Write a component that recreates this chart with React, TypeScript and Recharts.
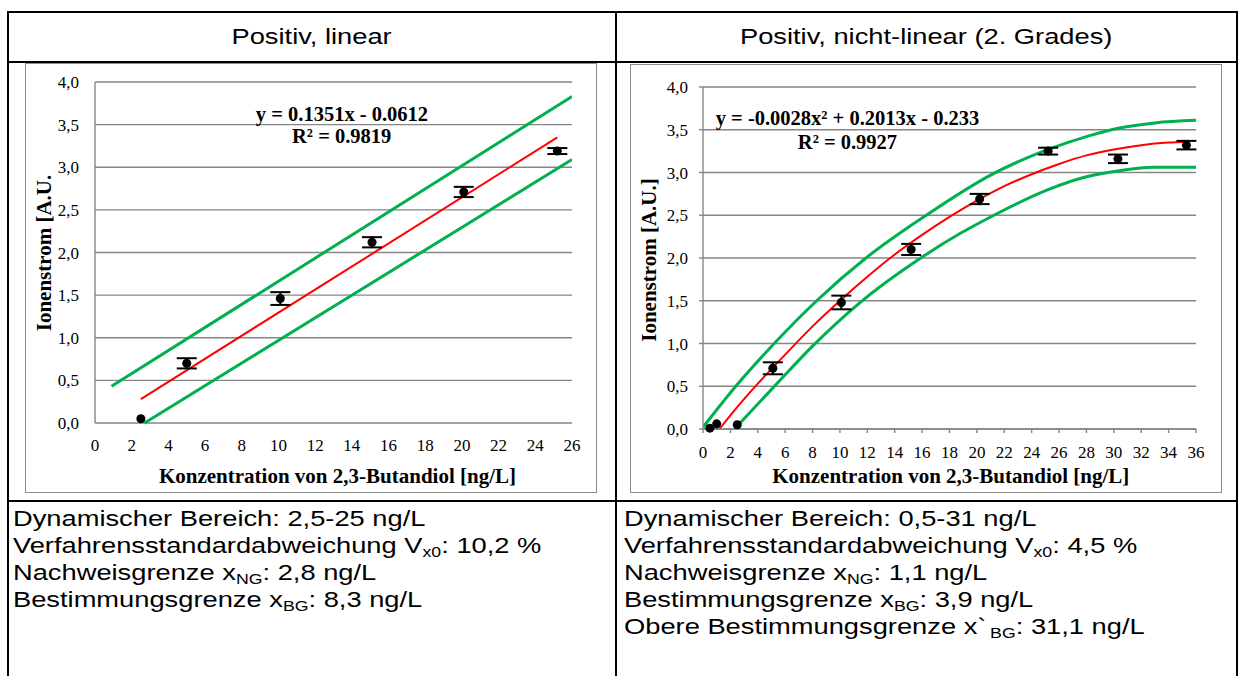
import React from 'react';
import { ComposedChart, Line, Scatter, XAxis, YAxis, CartesianGrid, ErrorBar } from 'recharts';

// ---------- data ----------
const xTicksLinear = [0, 2, 4, 6, 8, 10, 12, 14, 16, 18, 20, 22, 24, 26];
const xTicksQuad = [0, 2, 4, 6, 8, 10, 12, 14, 16, 18, 20, 22, 24, 26, 28, 30, 32, 34, 36];
const yTicks = [0, 0.5, 1, 1.5, 2, 2.5, 3, 3.5, 4];

const linearPoints = [
  { x: 2.5, y: 0.05, err: 0 },
  { x: 5.0, y: 0.7, err: 0.06 },
  { x: 10.1, y: 1.46, err: 0.075 },
  { x: 15.1, y: 2.12, err: 0.06 },
  { x: 20.1, y: 2.71, err: 0.06 },
  { x: 25.2, y: 3.19, err: 0.035 },
];
const linearFit = [
  { x: 2.5, y: 0.28 },
  { x: 25.2, y: 3.35 },
];
const linearUpper = [
  { x: 0.9, y: 0.43 },
  { x: 26, y: 3.83 },
];
const linearLower = [
  { x: 2.7, y: 0.0 },
  { x: 26, y: 3.09 },
];

const quadPoints = [
  { x: 0.5, y: 0.01, err: 0 },
  { x: 1.0, y: 0.06, err: 0 },
  { x: 2.5, y: 0.05, err: 0 },
  { x: 5.1, y: 0.71, err: 0.07 },
  { x: 10.1, y: 1.48, err: 0.08 },
  { x: 15.2, y: 2.1, err: 0.065 },
  { x: 20.2, y: 2.69, err: 0.06 },
  { x: 25.2, y: 3.25, err: 0.04 },
  { x: 30.3, y: 3.16, err: 0.05 },
  { x: 35.3, y: 3.32, err: 0.05 },
];
const quadFit = [
  { x: 1.2, y: 0 }, { x: 2, y: 0.16 }, { x: 4, y: 0.53 }, { x: 6, y: 0.87 },
  { x: 8, y: 1.2 }, { x: 10, y: 1.5 }, { x: 12, y: 1.78 }, { x: 14, y: 2.04 },
  { x: 16, y: 2.27 }, { x: 18, y: 2.48 }, { x: 20, y: 2.67 }, { x: 22, y: 2.84 },
  { x: 24, y: 2.98 }, { x: 26, y: 3.1 }, { x: 28, y: 3.2 }, { x: 30, y: 3.27 },
  { x: 32, y: 3.32 }, { x: 34, y: 3.35 }, { x: 35.3, y: 3.36 },
];
const quadUpper = [
  { x: 0, y: 0.02 }, { x: 2.5, y: 0.52 }, { x: 5.2, y: 1.0 }, { x: 8.3, y: 1.5 },
  { x: 11.9, y: 2.0 }, { x: 16.3, y: 2.5 }, { x: 21, y: 2.97 }, { x: 25.2, y: 3.27 },
  { x: 28, y: 3.42 }, { x: 30.4, y: 3.52 }, { x: 33, y: 3.58 }, { x: 36, y: 3.61 },
];
const quadLower = [
  { x: 2.3, y: 0 }, { x: 5.1, y: 0.48 }, { x: 8, y: 0.97 }, { x: 11.4, y: 1.47 },
  { x: 15.9, y: 2.0 }, { x: 18.7, y: 2.28 }, { x: 21, y: 2.48 }, { x: 25.2, y: 2.8 },
  { x: 28, y: 2.95 }, { x: 30.4, y: 3.02 }, { x: 33, y: 3.06 }, { x: 36, y: 3.06 },
];

const headers = ['Positiv, linear', 'Positiv, nicht-linear (2. Grades)'];
const xTitle = 'Konzentration von 2,3-Butandiol [ng/L]';
const yTitleLinear = 'Ionenstrom [A.U.';
const yTitleQuad = 'Ionenstrom [A.U.]';

// ---------- styles ----------
const SERIF = '"Liberation Serif", "Times New Roman", serif';
const SANS = '"Liberation Sans", Arial, sans-serif';
const GRID = '#868686';
const GREEN = '#00b050';
const RED = '#ff0000';
const fmt = (v: number) => v.toFixed(1).replace('.', ',');
const tickStyle = { fontFamily: SERIF, fontSize: 17, fill: '#000' };

const YTitle = ({ x, y, text }: { x: number; y: number; text: string }) => (
  <text
    x={x}
    y={y}
    transform={`rotate(-90 ${x} ${y})`}
    textAnchor="middle"
    dominantBaseline="central"
    fontFamily={SERIF}
    fontWeight="bold"
    fontSize={21}
    fill="#000"
  >
    {text}
  </text>
);
const XTitle = ({ x, y, text }: { x: number; y: number; text: string }) => (
  <text x={x} y={y} textAnchor="middle" fontFamily={SERIF} fontWeight="bold" fontSize={21} fill="#000">
    {text}
  </text>
);

const line = (l: number, t: number, w: number, h: number): React.CSSProperties => ({
  position: 'absolute',
  left: l,
  top: t,
  width: w,
  height: h,
  background: '#000',
});

const S = 1.24;
const textBlock: React.CSSProperties = {
  position: 'absolute',
  fontFamily: SANS,
  fontSize: 22,
  lineHeight: '27px',
  whiteSpace: 'nowrap',
  transform: `scaleX(${S})`,
  transformOrigin: 'left top',
  color: '#000',
};
const subStyle: React.CSSProperties = { fontSize: '0.65em', verticalAlign: '-0.3em', lineHeight: 0 };

const Box = ({ left, top, width, height, children }: any) => (
  <>
    <div style={{ position: 'absolute', left, top, width, height, background: '#fff' }}>{children}</div>
    <div
      style={{
        position: 'absolute',
        left,
        top,
        width,
        height,
        border: '1.5px solid #8c8c8c',
        boxSizing: 'border-box',
        pointerEvents: 'none',
      }}
    />
  </>
);

export default function App() {
  return (
    <div style={{ position: 'absolute', left: 0, top: 0, width: 1241, height: 676, background: '#fff', overflow: 'hidden' }}>
      {/* table lines */}
      <div style={line(7, 11, 1231, 2)} />
      <div style={line(7, 61, 1231, 2)} />
      <div style={line(7, 500, 1231, 2)} />
      <div style={line(7, 11, 2, 665)} />
      <div style={line(615, 11, 2, 665)} />
      <div style={line(1236, 11, 2, 665)} />

      {/* headers */}
      {headers.map((h, i) => (
        <div
          key={h}
          style={{
            position: 'absolute',
            left: i === 0 ? 9 : 617,
            width: i === 0 ? 606 : 619,
            top: 23,
            textAlign: 'center',
            fontFamily: SANS,
            fontSize: 22,
            lineHeight: '27px',
            whiteSpace: 'nowrap',
          }}
        >
          <span style={{ display: 'inline-block', transform: `scaleX(${S})` }}>{h}</span>
        </div>
      ))}

      {/* chart 1 */}
      <Box left={25} top={63} width={572} height={430}>
        <ComposedChart width={572} height={430} margin={{ top: 19, right: 25, bottom: 8, left: 0 }}>
          <CartesianGrid horizontal vertical={false} stroke={GRID} strokeWidth={1.4} />
          <XAxis
            type="number"
            dataKey="x"
            domain={[0, 26]}
            ticks={xTicksLinear}
            interval={0}
            allowDataOverflow
            height={62}
            axisLine={false}
            tickLine={false}
            tickSize={0}
            tickMargin={16}
            tick={tickStyle}
            label={{ content: () => <XTitle x={312.5} y={419.7} text={xTitle} /> }}
          />
          <YAxis
            type="number"
            domain={[0, 4]}
            ticks={yTicks}
            interval={0}
            width={70}
            tickFormatter={fmt}
            axisLine={{ stroke: GRID, strokeWidth: 1.4 }}
            tickLine={false}
            tickSize={0}
            tickMargin={16}
            tick={tickStyle}
            label={{ content: () => <YTitle x={18.5} y={190} text={yTitleLinear} /> }}
          />
          <Line data={linearUpper} dataKey="y" type="linear" stroke={GREEN} strokeWidth={3} dot={false} isAnimationActive={false} />
          <Line data={linearLower} dataKey="y" type="linear" stroke={GREEN} strokeWidth={3} dot={false} isAnimationActive={false} />
          <Line data={linearFit} dataKey="y" type="linear" stroke={RED} strokeWidth={2} dot={false} isAnimationActive={false} />
          <Scatter data={linearPoints} dataKey="y" fill="#000" isAnimationActive={false}>
            <ErrorBar dataKey="err" direction="y" width={10} stroke="#000" strokeWidth={2} isAnimationActive={false} />
          </Scatter>
        </ComposedChart>
      </Box>

      {/* chart 2 */}
      <Box left={630} top={64} width={592} height={429}>
        <ComposedChart width={592} height={429} margin={{ top: 23, right: 26, bottom: 8, left: 0 }}>
          <CartesianGrid horizontal vertical={false} stroke={GRID} strokeWidth={1.4} />
          <XAxis
            type="number"
            dataKey="x"
            domain={[0, 36]}
            ticks={xTicksQuad}
            interval={0}
            allowDataOverflow
            height={56}
            axisLine={{ stroke: GRID, strokeWidth: 1.4 }}
            tickLine={{ stroke: GRID, strokeWidth: 1.4 }}
            tickSize={4}
            tickMargin={13}
            tick={tickStyle}
            label={{ content: () => <XTitle x={320.8} y={418.7} text={xTitle} /> }}
          />
          <YAxis
            type="number"
            domain={[0, 4]}
            ticks={yTicks}
            interval={0}
            width={73}
            tickFormatter={fmt}
            axisLine={{ stroke: GRID, strokeWidth: 1.4 }}
            tickLine={{ stroke: GRID, strokeWidth: 1.4 }}
            tickSize={4}
            tickMargin={11}
            tick={tickStyle}
            label={{ content: () => <YTitle x={19} y={196} text={yTitleQuad} /> }}
          />
          <Line data={quadUpper} dataKey="y" type="monotone" stroke={GREEN} strokeWidth={3} dot={false} isAnimationActive={false} />
          <Line data={quadLower} dataKey="y" type="monotone" stroke={GREEN} strokeWidth={3} dot={false} isAnimationActive={false} />
          <Line data={quadFit} dataKey="y" type="monotone" stroke={RED} strokeWidth={2} dot={false} isAnimationActive={false} />
          <Scatter data={quadPoints} dataKey="y" fill="#000" isAnimationActive={false}>
            <ErrorBar dataKey="err" direction="y" width={10} stroke="#000" strokeWidth={2} isAnimationActive={false} />
          </Scatter>
        </ComposedChart>
      </Box>

      {/* trendline equations */}
      <svg width={1241} height={676} style={{ position: 'absolute', left: 0, top: 0, pointerEvents: 'none' }}>
        <g fontFamily={SERIF} fontWeight="bold" fontSize={20.5} fill="#000" textAnchor="middle">
          <text x={342} y={121}>y = 0.1351x - 0.0612</text>
          <text x={341.7} y={143}>R² = 0.9819</text>
          <text x={847.5} y={124.5}>y = -0.0028x² + 0.2013x - 0.233</text>
          <text x={847.5} y={148.5}>R² = 0.9927</text>
        </g>
      </svg>

      {/* parameter texts */}
      <div style={{ ...textBlock, left: 13, top: 505 }}>
        <div>Dynamischer Bereich: 2,5-25 ng/L</div>
        <div>
          Verfahrensstandardabweichung V<span style={subStyle}>x0</span>: 10,2 %
        </div>
        <div>
          Nachweisgrenze x<span style={subStyle}>NG</span>: 2,8 ng/L
        </div>
        <div>
          Bestimmungsgrenze x<span style={subStyle}>BG</span>: 8,3 ng/L
        </div>
      </div>
      <div style={{ ...textBlock, left: 624, top: 505 }}>
        <div>Dynamischer Bereich: 0,5-31 ng/L</div>
        <div>
          Verfahrensstandardabweichung V<span style={subStyle}>x0</span>: 4,5 %
        </div>
        <div>
          Nachweisgrenze x<span style={subStyle}>NG</span>: 1,1 ng/L
        </div>
        <div>
          Bestimmungsgrenze x<span style={subStyle}>BG</span>: 3,9 ng/L
        </div>
        <div>
          Obere Bestimmungsgrenze x`<span style={{ ...subStyle, marginLeft: 3 }}>BG</span>: 31,1 ng/L
        </div>
      </div>
    </div>
  );
}
